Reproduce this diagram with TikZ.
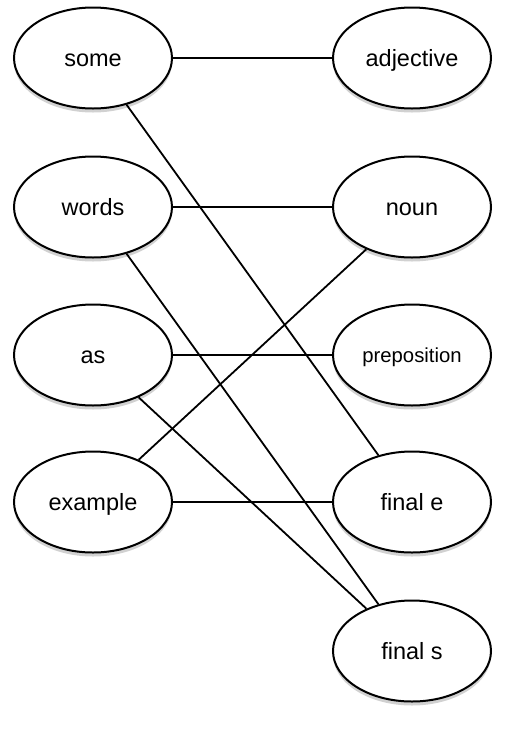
\documentclass[tikz,border=0pt]{standalone}
\usepackage{fontspec}
\setmainfont{Liberation Sans}
\usetikzlibrary{shapes.geometric,shadows}
\tikzset{
  word/.style={ellipse, draw=black, line width=2pt, fill=white,
    minimum width=158pt, minimum height=101pt, inner sep=0pt,
    font=\fontsize{23.5}{28}\selectfont, text height=21.3pt, text depth=5pt,
    drop shadow={shadow xshift=0pt, shadow yshift=-4pt, opacity=0.18, fill=black}},
  link/.style={line width=1.8pt, draw=black}
}
\begin{document}
\begin{tikzpicture}[x=1pt,y=1pt]
\useasboundingbox (0,0) rectangle (506,-732);
\node[word] (some) at (93,-58) {some};
\node[word] (words) at (93,-207) {words};
\node[word] (as) at (93,-355) {as};
\node[word] (example) at (93,-502) {example};
\node[word] (adjective) at (412,-58) {adjective};
\node[word] (noun) at (412,-207) {noun};
\node[word, font=\fontsize{20.3}{24}\selectfont, text height=18.4pt, text depth=4.3pt] (preposition) at (412,-355) {preposition};
\node[word] (finale) at (412,-502) {final e};
\node[word] (finals) at (412,-651) {final s};
\draw[link] (some) -- (adjective);
\draw[link] (some) -- (finale);
\draw[link] (words) -- (noun);
\draw[link] (words) -- (finals);
\draw[link] (as) -- (preposition);
\draw[link] (as) -- (finals);
\draw[link] (example) -- (noun);
\draw[link] (example) -- (finale);
\end{tikzpicture}
\end{document}
